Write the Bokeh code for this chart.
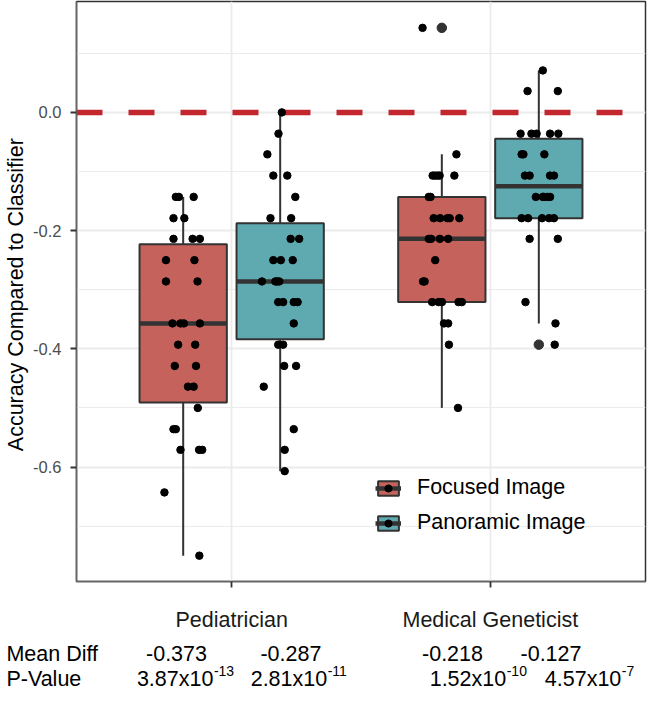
import numpy as np
from bokeh.plotting import figure
from bokeh.layouts import column, row
from bokeh.models import (Range1d, FixedTicker, Legend, LegendItem,
                          ColumnDataSource, NumeralTickFormatter)
from bokeh.core.properties import value
from bokeh.embed import file_html
from bokeh.resources import INLINE

# ---------------- data ----------------
categories = ["Pediatrician", "Medical Geneticist"]
series = ["Focused Image", "Panoramic Image"]

ped_focused_y = [-0.143, -0.143, -0.143, -0.179, -0.179, -0.214, -0.214, -0.214,
                 -0.25, -0.25, -0.286, -0.286, -0.357, -0.357, -0.357, -0.357,
                 -0.393, -0.393, -0.429, -0.429, -0.464, -0.464, -0.5,
                 -0.536, -0.536, -0.571, -0.571, -0.571, -0.643, -0.75]
ped_focused_x = [0.784, 0.796, 0.853, 0.775, 0.817, 0.775, 0.849, 0.877,
                 0.746, 0.856, 0.746, 0.868, 0.771, 0.802, 0.815, 0.877,
                 0.793, 0.859, 0.780, 0.862, 0.831, 0.853, 0.869,
                 0.775, 0.784, 0.802, 0.874, 0.886, 0.740, 0.875]

ped_panoramic_y = [0.0, -0.036, -0.071, -0.107, -0.107, -0.143, -0.179, -0.179,
                   -0.214, -0.214, -0.25, -0.25, -0.25, -0.286, -0.286, -0.286,
                   -0.286, -0.321, -0.321, -0.321, -0.321, -0.357, -0.393, -0.393,
                   -0.429, -0.429, -0.464, -0.536, -0.571, -0.607]
ped_panoramic_x = [1.194, 1.181, 1.138, 1.161, 1.215, 1.246, 1.150, 1.230,
                   1.228, 1.261, 1.161, 1.190, 1.236, 1.117, 1.169, 1.175,
                   1.184, 1.180, 1.199, 1.240, 1.255, 1.240, 1.180, 1.199,
                   1.203, 1.249, 1.124, 1.240, 1.205, 1.205]

gen_focused_y = [0.143, -0.071, -0.107, -0.107, -0.107, -0.107, -0.107, -0.143,
                 -0.143, -0.179, -0.179, -0.179, -0.179, -0.179, -0.214, -0.214,
                 -0.214, -0.214, -0.25, -0.286, -0.286, -0.321, -0.321, -0.321,
                 -0.321, -0.321, -0.357, -0.357, -0.393, -0.5]
gen_focused_x = [1.738, 1.869, 1.777, 1.786, 1.796, 1.804, 1.861, 1.762,
                 1.769, 1.781, 1.806, 1.834, 1.843, 1.880, 1.762, 1.771,
                 1.805, 1.837, 1.787, 1.740, 1.746, 1.775, 1.800, 1.813,
                 1.877, 1.890, 1.821, 1.837, 1.840, 1.875]

gen_panoramic_y = [0.071, 0.036, 0.036, -0.036, -0.036, -0.036, -0.036, -0.036,
                   -0.071, -0.071, -0.071, -0.107, -0.107, -0.107, -0.107,
                   -0.143, -0.143, -0.143, -0.143, -0.143, -0.179, -0.179,
                   -0.179, -0.179, -0.179, -0.214, -0.214, -0.321, -0.357, -0.393]
gen_panoramic_x = [2.203, 2.144, 2.261, 2.117, 2.159, 2.179, 2.231, 2.263,
                   2.121, 2.128, 2.209, 2.134, 2.152, 2.231, 2.246,
                   2.176, 2.203, 2.207, 2.221, 2.231, 2.121, 2.146,
                   2.200, 2.227, 2.246, 2.152, 2.261, 2.136, 2.252, 2.249]

row_labels = ["Mean Diff", "P-Value"]
mean_diff = ["-0.373", "-0.287", "-0.218", "-0.127"]
p_mantissa = ["3.87x10", "2.81x10", "1.52x10", "4.57x10"]
p_exponent = ["-13", "-11", "-10", "-7"]
reference_line = [0.0]
y_ticks = [-0.6, -0.4, -0.2, 0.0]
y_minor = [-0.7, -0.5, -0.3, -0.1, 0.1]
y_title = "Accuracy Compared to Classifier"

# ---------------- styling / layout ----------------
FONT = "Liberation Sans"
COLORS = ["#C5625B", "#5FA9B0"]
DARK = "#333333"
DODGE = 0.1875
BOX_W = 0.3375

TITLE_W = 30
MAIN_W, MAIN_H = 617, 637
TABLE_H = 54

groups = {
    0: [(ped_focused_x, ped_focused_y), (gen_focused_x, gen_focused_y)],
    1: [(ped_panoramic_x, ped_panoramic_y), (gen_panoramic_x, gen_panoramic_y)],
}


def box_stats(vals):
    a = np.asarray(vals, dtype=float)
    q1, med, q3 = np.percentile(a, [25, 50, 75])
    iqr = q3 - q1
    lo_f, hi_f = q1 - 1.5 * iqr, q3 + 1.5 * iqr
    inside = a[(a >= lo_f) & (a <= hi_f)]
    out = a[(a < lo_f) | (a > hi_f)]
    return q1, med, q3, inside.min(), inside.max(), out


p = figure(width=MAIN_W, height=MAIN_H, min_border_left=45, min_border_right=2,
           min_border_top=1, min_border_bottom=56,
           x_range=Range1d(0.4, 2.6), y_range=Range1d(-0.7937, 0.1876),
           output_backend="svg", toolbar_location=None,
           background_fill_color="white", border_fill_color="white")

# grid
p.xgrid.ticker = FixedTicker(ticks=[1, 2])
p.xgrid.grid_line_color = "#EBEBEB"
p.xgrid.grid_line_width = 1.8
p.ygrid.grid_line_color = "#EBEBEB"
p.ygrid.grid_line_width = 1.8
p.ygrid.minor_grid_line_color = "#EBEBEB"
p.ygrid.minor_grid_line_width = 1.0

# reference dashed line at zero
p.hspan(y=reference_line, line_color="#C1272D", line_width=5.5, line_dash="26 26")

legend_items = []
for s, name in enumerate(series):
    xs, q1s, meds, q3s, los, his = [], [], [], [], [], []
    ox, oy, jx, jy = [], [], [], []
    for c in range(len(categories)):
        gx, gy = groups[s][c]
        center = (c + 1) + (-DODGE if s == 0 else DODGE)
        q1, med, q3, lo, hi, out = box_stats(gy)
        xs.append(center); q1s.append(q1); meds.append(med); q3s.append(q3)
        los.append(lo); his.append(hi)
        ox += [center] * len(out); oy += list(out)
        jx += list(gx); jy += list(gy)
    src = ColumnDataSource(dict(x=xs, q1=q1s, med=meds, q3=q3s, lo=los, hi=his,
                                x0=[x - BOX_W / 2 for x in xs],
                                x1=[x + BOX_W / 2 for x in xs]))
    p.segment(x0="x", y0="q3", x1="x", y1="hi", source=src, line_color=DARK, line_width=2)
    p.segment(x0="x", y0="q1", x1="x", y1="lo", source=src, line_color=DARK, line_width=2)
    box = p.vbar(x="x", width=BOX_W, top="q3", bottom="q1", source=src,
                 fill_color=COLORS[s], line_color=DARK, line_width=2)
    med = p.segment(x0="x0", y0="med", x1="x1", y1="med", source=src,
                    line_color=DARK, line_width=4.5)
    p.scatter(x=ox, y=oy, size=9.5, color=DARK)
    jr = p.scatter(x="x", y="y", source=ColumnDataSource(dict(x=jx, y=jy)),
                   size=7.5, color="black")
    legend_items.append(LegendItem(label=name, renderers=[box, med, jr]))

legend = Legend(items=legend_items, location=(299, 46), orientation="vertical",
                glyph_width=26, glyph_height=18, label_standoff=16, spacing=10,
                padding=0, margin=0, border_line_alpha=0, background_fill_alpha=0,
                label_text_font=FONT, label_text_font_size="21.5px",
                label_text_color="black", label_height=18)
p.add_layout(legend)

# axes
p.xaxis.ticker = FixedTicker(ticks=[1, 2])
p.xaxis.major_label_overrides = {1: categories[0], 2: categories[1]}
p.xaxis.major_label_text_font = FONT
p.xaxis.major_label_text_font_size = "21.5px"
p.xaxis.major_label_text_color = "#1A1A1A"
p.xaxis.major_label_standoff = 20
p.xaxis.minor_tick_line_color = None

p.yaxis.ticker = FixedTicker(ticks=y_ticks, minor_ticks=y_minor)
p.yaxis.formatter = NumeralTickFormatter(format="0.0")
p.yaxis.major_label_text_font = FONT
p.yaxis.major_label_text_font_size = "16.5px"
p.yaxis.major_label_text_color = "#4D4D4D"
p.yaxis.major_label_standoff = 9
p.yaxis.minor_tick_line_color = None

for ax in (p.xaxis[0], p.yaxis[0]):
    ax.major_tick_out = 6
    ax.major_tick_in = 0
    ax.major_tick_line_color = DARK
    ax.major_tick_line_width = 1.8
    ax.axis_line_color = "#666666"
    ax.axis_line_width = 1.5

p.outline_line_color = DARK
p.outline_line_width = 1.5

# ---------------- y-axis title panel ----------------
t = figure(width=TITLE_W, height=MAIN_H, x_range=Range1d(0, TITLE_W),
           y_range=Range1d(0, MAIN_H), min_border=0, x_axis_type=None,
           y_axis_type=None, output_backend="svg", toolbar_location=None,
           outline_line_color=None, background_fill_color="white",
           border_fill_color="white")
t.grid.visible = False
t.text(x=[15.8], y=[MAIN_H - 322], text=[y_title], angle=np.pi / 2,
       text_align="center", text_baseline="alphabetic",
       text_font=value(FONT), text_font_size="21.5px", text_color="black")

# ---------------- table below the plot ----------------
TOTAL_W = TITLE_W + MAIN_W
tb = figure(width=TOTAL_W, height=TABLE_H, x_range=Range1d(0, TOTAL_W),
            y_range=Range1d(0, TABLE_H), min_border=0, x_axis_type=None,
            y_axis_type=None, output_backend="svg", toolbar_location=None,
            outline_line_color=None, background_fill_color="white",
            border_fill_color="white")
tb.grid.visible = False

ROW_Y = [38.0, 12.5]
EXP_Y = 20.3
LABEL_X = 5.9
MEAN_X = [176.0, 290.4, 452.0, 550.5]
P_ANCHOR_X = [212.9, 326.7, 505.7, 620.8]

tb.text(x=[LABEL_X] * 2, y=ROW_Y, text=row_labels, text_align="left",
        text_baseline="alphabetic", text_font=value(FONT),
        text_font_size="21.5px", text_color="black")
tb.text(x=MEAN_X, y=[ROW_Y[0]] * 4, text=mean_diff, text_align="center",
        text_baseline="alphabetic", text_font=value(FONT),
        text_font_size="21.5px", text_color="black")
tb.text(x=P_ANCHOR_X, y=[ROW_Y[1]] * 4, text=p_mantissa, text_align="right",
        text_baseline="alphabetic", text_font=value(FONT),
        text_font_size="21.5px", text_color="black")
tb.text(x=[x + 0.5 for x in P_ANCHOR_X], y=[EXP_Y] * 4, text=p_exponent,
        text_align="left", text_baseline="alphabetic", text_font=value(FONT),
        text_font_size="14px", text_color="black")

layout = column(row(t, p, spacing=0), tb, spacing=0)

open("out.html", "w").write(file_html(layout, INLINE))
